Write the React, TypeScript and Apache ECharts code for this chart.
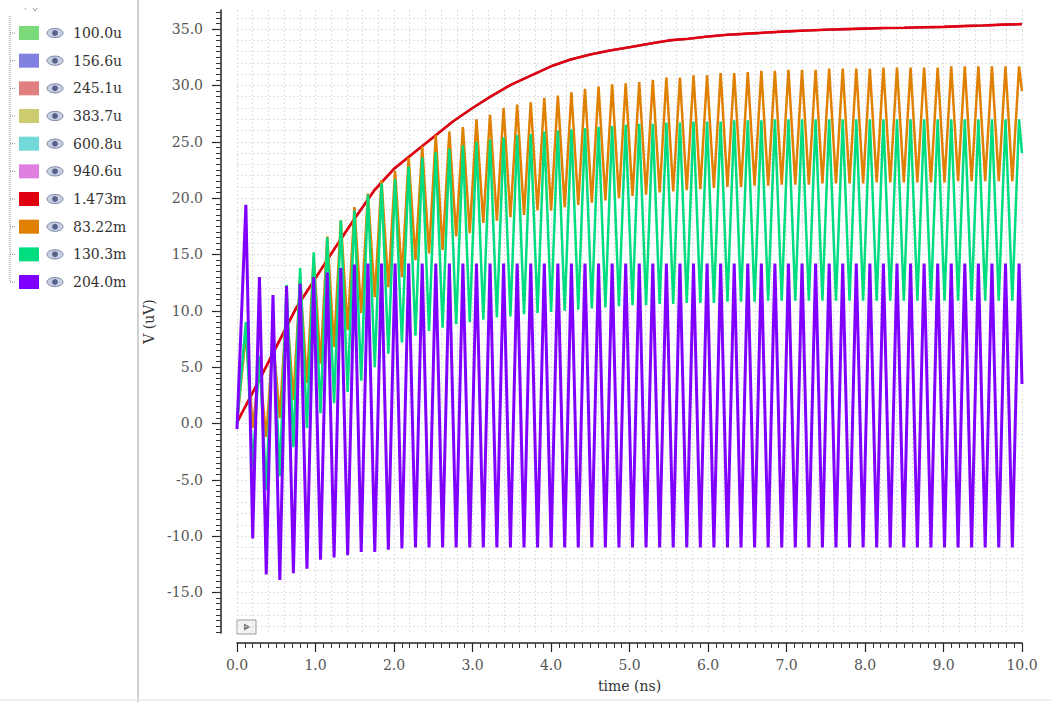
import React, { useEffect, useRef } from 'react';
import * as echarts from 'echarts';

const SERIES_NAMES = ['100.0u', '156.6u', '245.1u', '383.7u', '600.8u', '940.6u', '1.473m', '83.22m', '130.3m', '204.0m'];
const SERIES_COLORS = ['#7ada7a', '#8080e0', '#e08080', '#cccc6e', '#72d8d8', '#e07fe0', '#e00010', '#e08000', '#00dc80', '#8000ff'];

// smooth trace (1.473m) sampled every 0.25 ns
const RED_TIMES = [0, 0.25, 0.5, 0.75, 1, 1.25, 1.5, 1.75, 2, 2.25, 2.5, 2.75, 3, 3.25, 3.5, 3.75, 4, 4.25, 4.5, 4.75, 5, 5.25, 5.5, 5.75, 6, 6.25, 6.5, 6.75, 7, 7.25, 7.5, 7.75, 8, 8.25, 8.5, 8.75, 9, 9.25, 9.5, 9.75, 10];
const RED_VALUES = [0.1, 3.4, 6.8, 10.2, 12.9, 15.6, 18.2, 20.7, 22.6, 24.0, 25.4, 26.8, 28.0, 29.1, 30.1, 30.9, 31.7, 32.3, 32.75, 33.1, 33.4, 33.7, 34.0, 34.15, 34.35, 34.5, 34.6, 34.7, 34.8, 34.88, 34.95, 35.0, 35.05, 35.1, 35.13, 35.17, 35.2, 35.27, 35.33, 35.4, 35.45];

// oscillating traces: one peak and one trough per period
const PERIOD = 0.1728;
const FIRST_PEAK = 0.113;
const FIRST_TROUGH = 0.2;

const ORANGE_START = 0;
const ORANGE_END = 29.5;
const ORANGE_PEAKS = [8.0, 5.0, 7.5, 10.5, 12.8, 14.8, 16.6, 18.0, 19.2, 20.4, 21.6, 22.4, 23.6, 24.6, 25.6, 25.9, 26.3, 27.0, 27.4, 28.0, 28.3, 28.5, 28.9, 29.1, 29.4, 29.7, 29.9, 30.1, 30.2, 30.3, 30.5, 30.7, 30.7, 30.9, 30.9, 31.1, 31.1, 31.2, 31.3, 31.3, 31.4, 31.4, 31.4, 31.5, 31.5, 31.5, 31.5, 31.6, 31.6, 31.6, 31.6, 31.6, 31.7, 31.7, 31.7, 31.7, 31.7, 31.7];
const ORANGE_TROUGHS = [-0.4, -1.2, 0.5, 2.1, 3.6, 5.3, 6.8, 8.3, 9.8, 11.2, 12.1, 13.0, 14.5, 15.1, 15.4, 16.6, 16.9, 17.8, 18.0, 18.3, 18.5, 18.9, 18.9, 19.2, 19.4, 19.6, 19.8, 20.0, 20.2, 20.3, 20.5, 20.6, 20.7, 20.8, 20.9, 21.0, 21.0, 21.1, 21.1, 21.2, 21.2, 21.2, 21.3, 21.3, 21.3, 21.3, 21.4, 21.4, 21.4, 21.4, 21.4, 21.4, 21.5, 21.5, 21.5, 21.5, 21.5];

const GREEN_START = 0;
const GREEN_END = 24.0;
const GREEN_PEAKS = [9.0, 6.0, 9.0, 12.3, 13.8, 15.2, 16.5, 18.0, 18.9, 20.3, 21.3, 21.7, 22.8, 23.6, 24.1, 24.4, 24.7, 25.0, 25.2, 25.4, 25.6, 25.7, 25.9, 26.0, 26.1, 26.2, 26.3, 26.4, 26.5, 26.6, 26.6, 26.7, 26.7, 26.8, 26.8, 26.8, 26.9, 26.9, 26.9, 27.0, 27.0, 27.0, 27.0, 27.0, 27.0, 27.0, 27.0, 27.0, 27.0, 27.0, 27.0, 27.0, 27.0, 27.0, 27.0, 27.0, 27.0, 27.0];
const GREEN_TROUGHS = [-3.9, -5.9, -4.7, -2.1, -0.4, 0.9, 1.8, 2.8, 3.8, 5.0, 6.2, 7.2, 7.8, 8.2, 8.5, 8.8, 9.0, 9.2, 9.4, 9.5, 9.7, 9.8, 9.9, 10.0, 10.1, 10.2, 10.3, 10.4, 10.5, 10.5, 10.6, 10.6, 10.7, 10.7, 10.7, 10.8, 10.8, 10.8, 10.9, 10.9, 10.9, 10.9, 10.9, 10.9, 10.9, 10.9, 10.9, 10.9, 10.9, 10.9, 10.9, 10.9, 10.9, 10.9, 10.9, 10.9, 10.9];

const PURPLE_START = -0.5;
const PURPLE_END = 3.5;
const PURPLE_PEAKS = [19.4, 13.0, 11.4, 12.2, 12.4, 13.0, 13.4, 13.8, 14.1, 14.2, 14.2, 14.2, 14.2, 14.2, 14.2, 14.2, 14.2, 14.2, 14.2, 14.2, 14.2, 14.2, 14.2, 14.2, 14.2, 14.2, 14.2, 14.2, 14.2, 14.2, 14.2, 14.2, 14.2, 14.2, 14.2, 14.2, 14.2, 14.2, 14.2, 14.2, 14.2, 14.2, 14.2, 14.2, 14.2, 14.2, 14.2, 14.2, 14.2, 14.2, 14.2, 14.2, 14.2, 14.2, 14.2, 14.2, 14.2, 14.2];
const PURPLE_TROUGHS = [-10.2, -13.4, -13.9, -13.3, -12.9, -12.1, -11.9, -11.7, -11.4, -11.4, -11.2, -11.1, -11.0, -11.0, -11.0, -11.0, -11.0, -11.0, -11.0, -11.0, -11.0, -11.0, -11.0, -11.0, -11.0, -11.0, -11.0, -11.0, -11.0, -11.0, -11.0, -11.0, -11.0, -11.0, -11.0, -11.0, -11.0, -11.0, -11.0, -11.0, -11.0, -11.0, -11.0, -11.0, -11.0, -11.0, -11.0, -11.0, -11.0, -11.0, -11.0, -11.0, -11.0, -11.0, -11.0, -11.0, -11.0];

const X_MIN = 0;
const X_MAX = 10;
const Y_MIN = -18.6;
const Y_MAX = 36.7;
const Y_LABEL_VALUES = [-15, -10, -5, 0, 5, 10, 15, 20, 25, 30, 35];

const FONT = 'DejaVu Serif';

function wave(start: number, peaks: number[], troughs: number[], end: number) {
  const pts: number[][] = [[X_MIN, start]];
  for (let k = 0; k < peaks.length; k++) {
    pts.push([FIRST_PEAK + k * PERIOD, peaks[k]]);
    if (k < troughs.length) pts.push([FIRST_TROUGH + k * PERIOD, troughs[k]]);
  }
  pts.push([X_MAX, end]);
  return pts;
}

function steps(from: number, to: number, step: number) {
  const out: number[] = [];
  const n = Math.round((to - from) / step);
  for (let i = 0; i <= n; i++) out.push(+(from + i * step).toFixed(3));
  return out;
}

export default function App() {
  const ref = useRef<HTMLDivElement>(null);

  useEffect(() => {
    if (!ref.current) return;
    const chart = echarts.init(ref.current, null, { renderer: 'svg' });

    const redData = RED_TIMES.map((t, i) => [t, RED_VALUES[i]]);
    const dataByName: Record<string, number[][]> = {
      '1.473m': redData,
      '83.22m': wave(ORANGE_START, ORANGE_PEAKS, ORANGE_TROUGHS, ORANGE_END),
      '130.3m': wave(GREEN_START, GREEN_PEAKS, GREEN_TROUGHS, GREEN_END),
      '204.0m': wave(PURPLE_START, PURPLE_PEAKS, PURPLE_TROUGHS, PURPLE_END),
    };
    const widthByName: Record<string, number> = { '1.473m': 2.6, '83.22m': 2.5, '130.3m': 2.5, '204.0m': 3 };

    const series = SERIES_NAMES.map((name, i) => ({
      name,
      type: 'line',
      xAxisIndex: 0,
      yAxisIndex: 0,
      data: dataByName[name] || redData,
      showSymbol: false,
      symbol: 'none',
      silent: true,
      lineStyle: { width: widthByName[name] || 2, color: SERIES_COLORS[i] },
      itemStyle: { color: SERIES_COLORS[i] },
    }));

    const rowY0 = 33;
    const rowGap = 27.67;
    const graphics: any[] = [];
    graphics.push({ type: 'line', shape: { x1: 138, y1: 0, x2: 138, y2: 702 }, style: { stroke: '#d0d0d0', lineWidth: 2 }, silent: true });
    graphics.push({ type: 'line', shape: { x1: 0, y1: 700, x2: 1051, y2: 700 }, style: { stroke: '#e2e2e2', lineWidth: 1 }, silent: true });
    graphics.push({ type: 'polyline', shape: { points: [[33, 8], [35, 11], [37, 8]] }, style: { stroke: '#999', lineWidth: 1, fill: 'none' }, silent: true });
    graphics.push({ type: 'line', shape: { x1: 25, y1: 8, x2: 26, y2: 10 }, style: { stroke: '#aaa', lineWidth: 1 }, silent: true });
    graphics.push({ type: 'line', shape: { x1: 10, y1: 16, x2: 10, y2: rowY0 + rowGap * 9 }, style: { stroke: '#8a8a8a', lineWidth: 1, lineDash: [1, 1] }, silent: true });
    SERIES_NAMES.forEach((_, i) => {
      const cy = rowY0 + rowGap * i;
      graphics.push({ type: 'line', shape: { x1: 10, y1: cy, x2: 16, y2: cy }, style: { stroke: '#8a8a8a', lineWidth: 1, lineDash: [1, 1] }, silent: true });
      graphics.push({ type: 'ellipse', shape: { cx: 55, cy, rx: 8, ry: 4.6 }, style: { fill: '#c9cfe2', stroke: '#7a85a6', lineWidth: 1 }, silent: true });
      graphics.push({ type: 'circle', shape: { cx: 55, cy, r: 2.9 }, style: { fill: '#566089' }, silent: true });
    });
    graphics.push({ type: 'rect', shape: { x: 237, y: 620, width: 19, height: 14 }, style: { fill: '#f3f3f3', stroke: '#9a9a9a', lineWidth: 1 }, silent: true });
    graphics.push({ type: 'polygon', shape: { points: [[244, 623.5], [244, 630.5], [250.5, 627]] }, style: { fill: '#7a7a7a' }, silent: true });

    const option: any = {
      animation: false,
      backgroundColor: '#ffffff',
      color: SERIES_COLORS,
      grid: { left: 237, right: 29, top: 10, bottom: 69, containLabel: false },
      legend: {
        orient: 'vertical',
        left: 19,
        top: 26,
        itemWidth: 20,
        itemHeight: 14,
        itemGap: rowGap - 14,
        icon: 'rect',
        selectedMode: false,
        padding: 0,
        textStyle: { fontFamily: FONT, fontSize: 14, color: '#333', lineHeight: 14, padding: [0, 0, 0, 29] },
        data: SERIES_NAMES,
      },
      xAxis: [
        {
          type: 'value', min: X_MIN, max: X_MAX, interval: 1, position: 'bottom', offset: 10,
          name: 'time (ns)', nameLocation: 'middle', nameGap: 36,
          nameTextStyle: { fontFamily: FONT, fontSize: 14, color: '#333' },
          axisLine: { show: true, onZero: false, lineStyle: { color: '#222', width: 1.5 } },
          axisTick: { show: true, length: 9, lineStyle: { color: '#222', width: 1.2 } },
          minorTick: { show: true, splitNumber: 10, length: 5, lineStyle: { color: '#333', width: 1 } },
          axisLabel: { margin: 15, formatter: (v: number) => v.toFixed(1), fontFamily: FONT, fontSize: 14, color: '#555' },
          splitLine: { show: true, lineStyle: { color: '#bdbdbd', type: [2, 2], width: 1 } },
        },
        {
          type: 'value', min: X_MIN, max: X_MAX, interval: 0.2, position: 'top',
          axisLine: { show: false, onZero: false }, axisTick: { show: false }, axisLabel: { show: false },
          splitLine: { show: true, lineStyle: { color: '#e0e0e0', type: [2, 2], width: 1 } },
        },
      ],
      yAxis: [
        {
          type: 'value', min: Y_MIN, max: Y_MAX, position: 'left', offset: 16,
          name: 'V (uV)', nameLocation: 'middle', nameGap: 33, nameRotate: 90,
          nameTextStyle: { fontFamily: FONT, fontSize: 14, color: '#333' },
          axisLine: { show: true, onZero: false, lineStyle: { color: '#222', width: 1.5 } },
          axisTick: { show: true, length: 9, customValues: Y_LABEL_VALUES, lineStyle: { color: '#222', width: 1.2 } },
          axisLabel: { customValues: Y_LABEL_VALUES, margin: 18, formatter: (v: number) => v.toFixed(1), fontFamily: FONT, fontSize: 14, color: '#555' },
          splitLine: { show: true, lineStyle: { color: '#bdbdbd', type: [2, 2], width: 1 } },
        },
        {
          type: 'value', min: Y_MIN, max: Y_MAX, position: 'left', offset: 16,
          axisLine: { show: false, onZero: false },
          axisTick: { show: true, length: 5, customValues: steps(-18.5, 36.5, 0.5), lineStyle: { color: '#333', width: 1 } },
          axisLabel: { show: false },
          splitLine: { show: false },
        },
        {
          type: 'value', min: Y_MIN, max: Y_MAX, position: 'right',
          axisLine: { show: false, onZero: false },
          axisTick: { show: false, customValues: steps(-18, 36, 1) },
          axisLabel: { show: false },
          splitLine: { show: true, lineStyle: { color: '#e0e0e0', type: [2, 2], width: 1 } },
        },
      ],
      graphic: graphics,
      series,
    };

    chart.setOption(option);
    return () => chart.dispose();
  }, []);

  return (
    <div
      ref={ref}
      style={{ position: 'fixed', left: 0, top: 0, width: 1051, height: 702, background: '#fff' }}
    />
  );
}
